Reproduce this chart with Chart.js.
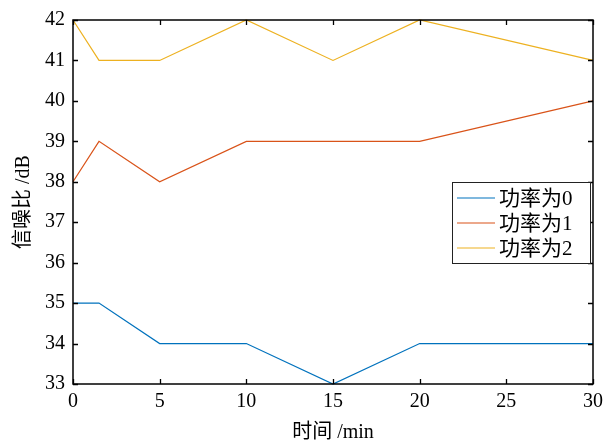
<!DOCTYPE html>
<html lang="zh-CN">
<head>
<meta charset="UTF-8">
<title>信噪比</title>
<script src="https://cdn.jsdelivr.net/npm/chart.js"></script>
<style>
  html, body { margin: 0; padding: 0; background: #fff; }
  .box { width: 603px; height: 441px; }
</style>
</head>
<body>
<div class="box"><canvas id="grafico"></canvas></div>
<script>
  // dados
  const tempos = [0, 1.5, 5, 10, 15, 20, 30];
  const potencia0 = [35, 35, 34, 34, 33, 34, 34];
  const potencia1 = [38, 39, 38, 39, 39, 39, 40];
  const potencia2 = [42, 41, 41, 42, 41, 42, 41];
  const nomes = ['功率为0', '功率为1', '功率为2'];
  const cores = ['#0072BD', '#D95319', '#EDB120'];

  const fonte = '"Liberation Serif", "Noto Sans CJK SC", serif';

  function pontos(ys) {
    return tempos.map((t, i) => ({ x: t, y: ys[i] }));
  }

  // caixa, ticks para dentro e legenda dentro do grafico
  const moldura = {
    id: 'moldura',
    afterDraw(chart) {
      const ctx = chart.ctx;
      const a = chart.chartArea;
      const sx = chart.scales.x;
      const sy = chart.scales.y;
      const tam = 5;
      ctx.save();
      ctx.strokeStyle = '#000';
      ctx.lineWidth = 1.3;
      ctx.beginPath();
      sx.ticks.forEach(t => {
        const px = Math.round(sx.getPixelForValue(t.value)) + 0.5;
        ctx.moveTo(px, a.bottom); ctx.lineTo(px, a.bottom - tam);
        ctx.moveTo(px, a.top); ctx.lineTo(px, a.top + tam);
      });
      sy.ticks.forEach(t => {
        const py = Math.round(sy.getPixelForValue(t.value)) + 0.5;
        ctx.moveTo(a.left, py); ctx.lineTo(a.left + tam, py);
        ctx.moveTo(a.right, py); ctx.lineTo(a.right - tam, py);
      });
      ctx.stroke();
      ctx.lineWidth = 1.5;
      ctx.strokeRect(a.left, a.top, a.right - a.left, a.bottom - a.top);

      // legenda
      const lx = 452, ly = 182, lw = 138, lh = 81;
      ctx.fillStyle = '#fff';
      ctx.fillRect(lx, ly, lw, lh);
      ctx.lineWidth = 1;
      ctx.strokeStyle = '#222';
      ctx.strokeRect(lx + 0.5, ly + 0.5, lw, lh);
      ctx.font = '21px ' + fonte;
      ctx.textBaseline = 'middle';
      ctx.fillStyle = '#000';
      chart.data.datasets.forEach((ds, i) => {
        const y = ly + 16 + i * 25;
        ctx.strokeStyle = ds.borderColor;
        ctx.lineWidth = 1.2;
        ctx.beginPath();
        ctx.moveTo(lx + 5, y); ctx.lineTo(lx + 43, y);
        ctx.stroke();
        ctx.fillText(ds.label, lx + 47, y + 1);
      });
      ctx.restore();
    }
  };

  const data = {
    datasets: [potencia0, potencia1, potencia2].map((s, i) => ({
      label: nomes[i],
      data: pontos(s),
      borderColor: cores[i],
      backgroundColor: cores[i],
      borderWidth: 1.2,
      pointRadius: 0,
      tension: 0,
      clip: false
    }))
  };

  const config = {
    type: 'line',
    data: data,
    options: {
      responsive: false,
      animation: false,
      layout: { padding: { left: 0, right: 10, top: 20, bottom: 0 } },
      plugins: {
        legend: { display: false },
        tooltip: { enabled: false }
      },
      scales: {
        x: {
          type: 'linear',
          min: 0, max: 30,
          grid: { display: false, drawTicks: false },
          border: { display: false },
          ticks: { stepSize: 5, color: '#000', padding: 6, font: { family: fonte, size: 20 } },
          title: { display: true, text: '时间 /min', color: '#000', padding: { top: 7, bottom: -4 }, font: { family: fonte, size: 20 } },
          afterFit(s) { s.height = 57; s.paddingLeft = 0; s.paddingRight = 0; }
        },
        y: {
          min: 33, max: 42,
          grid: { display: false, drawTicks: false },
          border: { display: false },
          ticks: { stepSize: 1, color: '#000', padding: 8, font: { family: fonte, size: 20 } },
          title: { display: true, text: '信噪比 /dB', color: '#000', padding: { top: 12, bottom: 0 }, font: { family: fonte, size: 20 } },
          afterFit(s) { s.width = 73; s.paddingTop = 0; s.paddingBottom = 0; }
        }
      }
    },
    plugins: [moldura]
  };

  const cv = document.getElementById('grafico');
  cv.width = 603;
  cv.height = 441;
  let myChart = new Chart(cv, config);
</script>
</body>
</html>
